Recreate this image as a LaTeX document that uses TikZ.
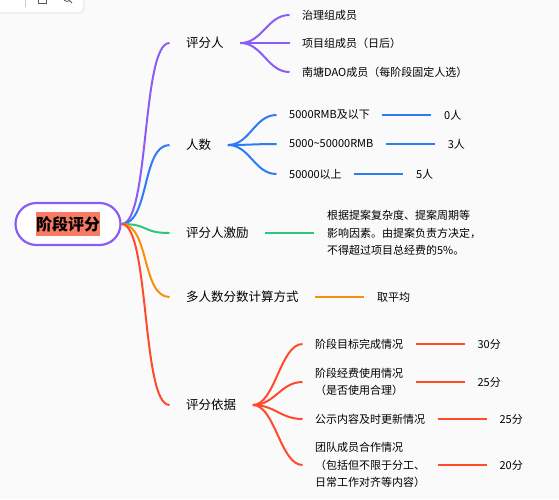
\documentclass[tikz,border=0pt]{standalone}
\usepackage{fontspec}
\setmainfont{Noto Sans CJK SC}
\usetikzlibrary{positioning}
\definecolor{zi}{HTML}{8B5CF6}
\definecolor{lan}{HTML}{2F7BF6}
\definecolor{lv}{HTML}{2DC77A}
\definecolor{cheng}{HTML}{F7900A}
\definecolor{hong}{HTML}{FF4B2B}
\definecolor{xiahong}{HTML}{F97A63}
\definecolor{beijing}{HTML}{FAFAFA}
\begin{document}
\begin{tikzpicture}[x=1pt, y=-1pt,
	genjie/.style={draw=zi, line width=2.2pt, fill=white, rounded corners=21pt, minimum width=105pt, minimum height=42pt},
	biaoqian/.style={fill=xiahong, inner xsep=0pt, minimum height=24pt, font=\fontsize{16}{18}\selectfont\bfseries},
	yiji/.style={anchor=west, inner xsep=16.5pt, inner ysep=2pt, font=\fontsize{12.5}{15}\selectfont},
	erji/.style={anchor=west, inner xsep=12.5pt, inner ysep=2pt, align=left, font=\fontsize{11}{17.5}\selectfont},
	zhi/.style={line width=2pt},
	wan/.style={line width=2pt, looseness=1}]
	% ==================== 背景 ====================
	\fill[beijing] (0,0) rectangle (559,499);
	\useasboundingbox (0,0) rectangle (559,499);
	
	% --- 左上角工具栏 ---
	\fill[black!6, rounded corners=5pt] (-6,-6) rectangle (85,14);
	\fill[white, rounded corners=5pt] (-6,-6) rectangle (83,12);
	\draw[black!20] (25,-2) -- (25,7);
	\draw[black!65, line width=0.8pt] (38,-6) rectangle (46,3);
	\draw[black!65, line width=0.8pt] (67,-2) circle (3.5) (69.5,0.5) -- (72,3);
	
	% ==================== 中心主题 ====================
	\node[genjie] (root) at (68,224) {};
	\node[biaoqian] (roottag) at (root) {阶段评分};
	
	% ==================== 一级分支 ====================
	\node[yiji] (pfr) at (169.5,43) {评分人};
	\node[yiji] (rs) at (169.5,145) {人数};
	\node[yiji] (jl) at (169.5,233) {评分人激励};
	\node[yiji] (js) at (169.5,297) {多人数分数计算方式};
	\node[yiji] (yj) at (169.5,405) {评分依据};
	
	\draw[wan, zi] (root.east) .. controls +(28,0) and +(-28,0) .. (pfr.west);
	\draw[wan, lan] (root.east) .. controls +(28,0) and +(-28,0) .. (rs.west);
	\draw[wan, lv] (root.east) .. controls +(28,0) and +(-28,0) .. (jl.west);
	\draw[wan, cheng] (root.east) .. controls +(28,0) and +(-28,0) .. (js.west);
	\draw[wan, hong] (root.east) .. controls +(28,0) and +(-28,0) .. (yj.west);
	
	% --- 评分人 ---
	\node[erji] (pfr1) at (289.5,15) {治理组成员};
	\node[erji] (pfr2) at (289.5,43) {项目组成员（日后）};
	\node[erji] (pfr3) at (289.5,72) {南塘DAO成员（每阶段固定人选）};
	\foreach \n in {pfr1,pfr2,pfr3}
		\draw[wan, zi] (pfr.east) .. controls +(22,0) and +(-22,0) .. (\n.west);
	
	% --- 人数 ---
	\node[erji] (rs1) at (276.5,115) {5000RMB及以下};
	\node[erji] (rs2) at (276.5,144) {5000\textasciitilde50000RMB};
	\node[erji] (rs3) at (276.5,174) {50000以上};
	\foreach \n in {rs1,rs2,rs3}
		\draw[wan, lan] (rs.east) .. controls +(22,0) and +(-22,0) .. (\n.west);
	\node[erji, right=49pt of rs1] (rs1v) {0人};
	\node[erji, right=49pt of rs2] (rs2v) {3人};
	\node[erji, right=49pt of rs3] (rs3v) {5人};
	\draw[zhi, lan] (rs1.east) -- (rs1v.west);
	\draw[zhi, lan] (rs2.east) -- (rs2v.west);
	\draw[zhi, lan] (rs3.east) -- (rs3v.west);
	
	% --- 评分人激励 ---
	\node[erji, right=49pt of jl] (jl1) {根据提案复杂度、提案周期等\\影响因素。由提案负责方决定，\\不得超过项目总经费的5\%。};
	\draw[zhi, lv] (jl.east) -- (jl1.west);
	
	% --- 多人数分数计算方式 ---
	\node[erji, right=49pt of js] (js1) {取平均};
	\draw[zhi, cheng] (js.east) -- (js1.west);
	
	% --- 评分依据 ---
	\node[erji] (yj1) at (302.5,344) {阶段目标完成情况};
	\node[erji] (yj2) at (302.5,382) {阶段经费使用情况\\（是否使用合理）};
	\node[erji] (yj3) at (302.5,419) {公示内容及时更新情况};
	\node[erji] (yj4) at (302.5,465) {团队成员合作情况\\（包括但不限于分工、\\日常工作对齐等内容）};
	\foreach \n in {yj1,yj2,yj3,yj4}
		\draw[wan, hong] (yj.east) .. controls +(22,0) and +(-22,0) .. (\n.west);
	\node[erji, right=49pt of yj1] (yj1v) {30分};
	\node[erji, right=49pt of yj2] (yj2v) {25分};
	\node[erji, right=49pt of yj3] (yj3v) {25分};
	\node[erji, right=49pt of yj4] (yj4v) {20分};
	\draw[zhi, hong] (yj1.east) -- (yj1v.west);
	\draw[zhi, hong] (yj2.east) -- (yj2v.west);
	\draw[zhi, hong] (yj3.east) -- (yj3v.west);
	\draw[zhi, hong] (yj4.east) -- (yj4v.west);
\end{tikzpicture}
\end{document}
